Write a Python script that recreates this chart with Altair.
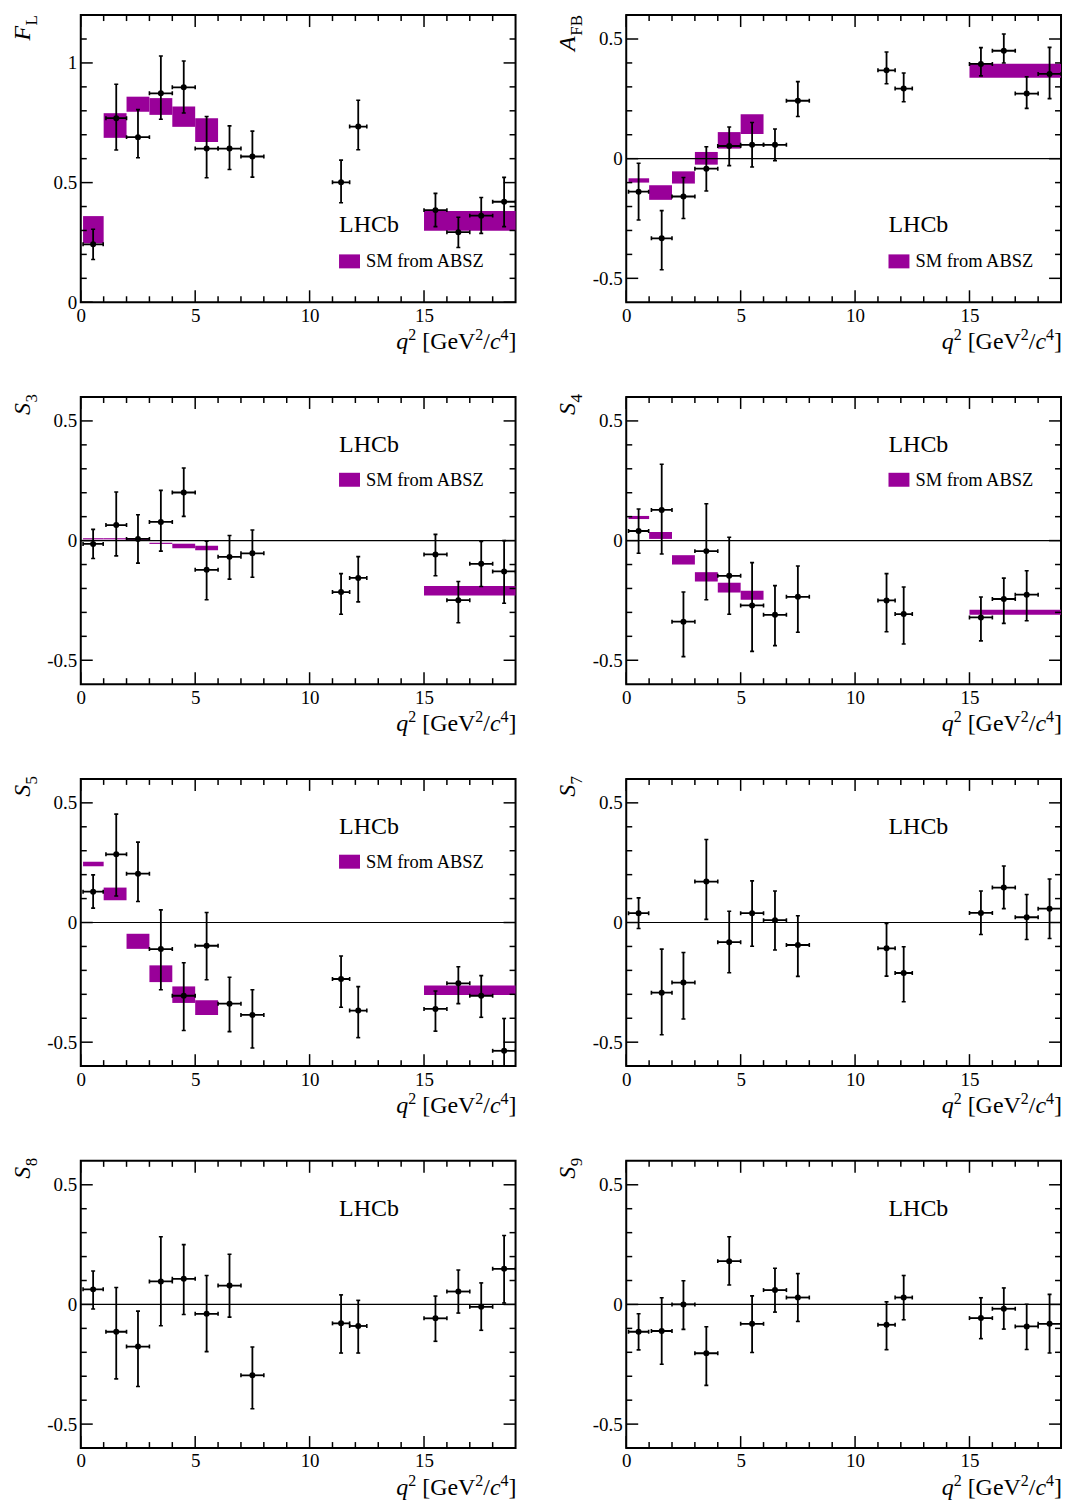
import altair as alt
import pandas as pd

# ---------------- data ----------------
bin_lo = [0.1, 1.1, 2.0, 3.0, 4.0, 5.0, 6.0, 7.0, 11.0, 11.75, 15.0, 16.0, 17.0, 18.0]
bin_hi = [0.98, 2.0, 3.0, 4.0, 5.0, 6.0, 7.0, 8.0, 11.75, 12.5, 16.0, 17.0, 18.0, 19.0]
th_bin_lo = [0.1, 1.0, 2.0, 3.0, 4.0, 5.0, 15.0]
th_bin_hi = [1.0, 2.0, 3.0, 4.0, 5.0, 6.0, 19.0]

FL_val = [0.242, 0.769, 0.690, 0.873, 0.898, 0.642, 0.642, 0.609, 0.501, 0.734, 0.385, 0.293, 0.362, 0.420]
FL_up = [0.305, 0.911, 0.805, 1.029, 1.008, 0.776, 0.737, 0.715, 0.594, 0.844, 0.455, 0.355, 0.438, 0.522]
FL_dn = [0.179, 0.636, 0.604, 0.765, 0.791, 0.520, 0.555, 0.523, 0.416, 0.637, 0.316, 0.229, 0.288, 0.316]
FL_th_lo = [0.246, 0.687, 0.796, 0.783, 0.733, 0.670, 0.299]
FL_th_hi = [0.360, 0.790, 0.859, 0.853, 0.818, 0.769, 0.381]

AFB_val = [-0.138, -0.333, -0.158, -0.042, 0.053, 0.058, 0.058, 0.242, 0.369, 0.293, 0.396, 0.451, 0.272, 0.354]
AFB_up = [-0.019, -0.217, -0.079, 0.050, 0.132, 0.151, 0.124, 0.322, 0.446, 0.358, 0.464, 0.521, 0.342, 0.465]
AFB_dn = [-0.256, -0.464, -0.250, -0.135, -0.029, -0.035, -0.008, 0.176, 0.313, 0.238, 0.346, 0.400, 0.210, 0.251]
AFB_th_lo = [-0.100, -0.172, -0.104, -0.025, 0.042, 0.103, 0.338]
AFB_th_hi = [-0.082, -0.111, -0.053, 0.028, 0.111, 0.186, 0.397]

S3_val = [-0.014, 0.065, 0.007, 0.078, 0.201, -0.122, -0.068, -0.053, -0.215, -0.156, -0.058, -0.249, -0.097, -0.129]
S3_up = [0.047, 0.203, 0.108, 0.210, 0.303, -0.003, 0.021, 0.044, -0.138, -0.067, 0.026, -0.171, -0.004, 0.000]
S3_dn = [-0.075, -0.064, -0.094, -0.044, 0.101, -0.247, -0.161, -0.153, -0.308, -0.256, -0.147, -0.343, -0.192, -0.262]
S3_th_lo = [0.005, 0.005, 0.000, -0.014, -0.032, -0.040, -0.229]
S3_th_hi = [0.010, 0.010, 0.006, -0.009, -0.013, -0.022, -0.190]

S4_val = [0.040, 0.128, -0.339, -0.044, -0.147, -0.271, -0.310, -0.235, -0.250, -0.307, -0.321, -0.244, -0.226, None]
S4_up = [0.132, 0.319, -0.215, 0.154, 0.014, -0.092, -0.188, -0.106, -0.138, -0.194, -0.236, -0.157, -0.126, None]
S4_dn = [-0.053, -0.056, -0.485, -0.247, -0.308, -0.463, -0.439, -0.383, -0.381, -0.432, -0.419, -0.346, -0.335, None]
S4_th_lo = [0.090, 0.007, -0.100, -0.171, -0.217, -0.247, -0.310]
S4_th_hi = [0.103, 0.036, -0.061, -0.132, -0.176, -0.210, -0.289]

S5_val = [0.129, 0.285, 0.204, -0.111, -0.306, -0.097, -0.339, -0.386, -0.236, -0.368, -0.361, -0.254, -0.306, -0.536]
S5_up = [0.199, 0.453, 0.336, 0.053, -0.168, 0.042, -0.229, -0.281, -0.140, -0.268, -0.286, -0.185, -0.222, -0.401]
S5_dn = [0.060, 0.111, 0.088, -0.281, -0.451, -0.239, -0.456, -0.524, -0.354, -0.481, -0.454, -0.339, -0.396, -0.640]
S5_th_lo = [0.235, 0.093, -0.110, -0.249, -0.336, -0.386, -0.303]
S5_th_hi = [0.254, 0.146, -0.047, -0.179, -0.267, -0.325, -0.263]

S7_val = [0.039, -0.293, -0.251, 0.171, -0.082, 0.039, 0.010, -0.094, -0.108, -0.211, 0.040, 0.146, 0.022, 0.058]
S7_up = [0.103, -0.111, -0.125, 0.347, 0.047, 0.174, 0.132, 0.028, -0.004, -0.101, 0.132, 0.236, 0.117, 0.182]
S7_dn = [-0.025, -0.469, -0.403, 0.013, -0.210, -0.099, -0.115, -0.225, -0.224, -0.331, -0.050, 0.058, -0.071, -0.067]

S8_val = [0.063, -0.114, -0.176, 0.096, 0.107, -0.039, 0.079, -0.296, -0.079, -0.090, -0.058, 0.054, -0.010, 0.149]
S8_up = [0.140, 0.071, -0.028, 0.283, 0.250, 0.121, 0.210, -0.178, 0.040, 0.017, 0.035, 0.144, 0.090, 0.288]
S8_dn = [-0.019, -0.311, -0.343, -0.089, -0.042, -0.197, -0.053, -0.436, -0.203, -0.203, -0.154, -0.036, -0.108, 0.006]

S9_val = [-0.114, -0.111, 0.000, -0.204, 0.181, -0.081, 0.060, 0.029, -0.085, 0.029, -0.057, -0.018, -0.092, -0.081]
S9_up = [-0.039, 0.028, 0.099, -0.093, 0.283, 0.036, 0.151, 0.129, 0.011, 0.121, 0.028, 0.069, 0.001, 0.042]
S9_dn = [-0.190, -0.250, -0.104, -0.338, 0.081, -0.201, -0.032, -0.071, -0.189, -0.064, -0.143, -0.103, -0.188, -0.203]

x_major = [0, 5, 10, 15]
x_minor = [1, 2, 3, 4, 6, 7, 8, 9, 11, 12, 13, 14, 16, 17, 18]
yFL_major = [0, 0.5, 1.0]
yFL_minor = [0.1, 0.2, 0.3, 0.4, 0.6, 0.7, 0.8, 0.9, 1.1]
yS_major = [-0.5, 0, 0.5]
yS_minor = [-0.4, -0.3, -0.2, -0.1, 0.1, 0.2, 0.3, 0.4]

legend_label = "SM from ABSZ"

# ---------------- style ----------------
W, H = 436, 288
FONT = "Liberation Serif"
PURPLE = "#990099"
MAJ, MIN = 12, 6
DUMMY = pd.DataFrame({"d": [0]})
# Times / Liberation Serif advance widths (per 1000 em)
ADV = {"q": 500, "2": 500, "4": 500, "3": 500, " ": 250, "[": 333, "G": 722, "e": 444,
       "V": 722, "/": 278, "c": 444, "]": 333, "L": 611, "F": 556, "B": 667,
       "5": 500, "7": 500, "8": 500, "9": 500}


def tw(s, size):
    return sum(ADV.get(ch, 500) for ch in s) * size / 1000.0


xscale = alt.Scale(domain=[0, 19], nice=False, zero=False)
xaxis = alt.Axis(values=x_major, title=None, ticks=False, tickSize=0, domain=False, grid=False,
                 labelFont=FONT, labelFontSize=19, labelColor="black", labelPadding=4,
                 labelFlush=False, labelOverlap=False)


def text_layer(txt, x, y, size, italic=False, angle=0, align="left"):
    kw = dict(text=txt, font=FONT, fontSize=size, align=align, baseline="alphabetic", color="black")
    if italic:
        kw["fontStyle"] = "italic"
    if angle:
        kw["angle"] = angle
    return alt.Chart(DUMMY).mark_text(**kw).encode(x=alt.value(x), y=alt.value(y))


def xtitle_layers():
    base_y = H + 47
    sup_y = base_y - 9
    pieces = [("q", 24, True, base_y), ("2", 16, False, sup_y), ("[GeV", 24, False, base_y),
              ("2", 16, False, sup_y), ("/", 24, False, base_y), ("c", 24, True, base_y),
              ("4", 16, False, sup_y), ("]", 24, False, base_y)]
    total = sum(tw(p[0], p[1]) for p in pieces) + tw(" ", 24)
    x = W - total + 1
    out = []
    for i, (t, s, it, yy) in enumerate(pieces):
        out.append(text_layer(t, x, yy, s, italic=it))
        x += tw(t, s)
        if i == 1:
            x += tw(" ", 24)
    return out


def ytitle_layers(main, sub, end):
    sw = tw(sub, 17)
    return [text_layer(sub, -44, end, 17, angle=270, align="right"),
            text_layer(main, -51, end + sw + 0.5, 24, italic=True, angle=270, align="right")]


def panel(main, sub, vals, ups, dns, ydom, ymaj, ymin, th_lo=None, th_hi=None,
          zero=True, lhcb_x=259, lhcb_y=55, leg_x=259, leg_y=72.5, title_end=-3):
    yscale = alt.Scale(domain=ydom, nice=False, zero=False)
    yaxis = alt.Axis(values=ymaj, title=None, ticks=False, tickSize=0, domain=False, grid=False,
                     labelFont=FONT, labelFontSize=19, labelColor="black", labelPadding=4,
                     labelFlush=False, labelOverlap=False, labelExpr="toString(datum.value)")

    def X(f):
        return alt.X(f, type="quantitative", scale=xscale, axis=xaxis)

    def Y(f):
        return alt.Y(f, type="quantitative", scale=yscale, axis=yaxis)

    df = pd.DataFrame({"lo": bin_lo, "hi": bin_hi, "val": vals, "up": ups, "dn": dns}).dropna()
    df["xc"] = (df["lo"] + df["hi"]) / 2.0
    base = alt.Chart(df)
    layers = []
    if th_lo is not None:
        bdf = pd.DataFrame({"a": th_bin_lo, "b": th_bin_hi, "ylo": th_lo, "yhi": th_hi,
                            "lab": [legend_label] * len(th_lo)})
        layers.append(
            alt.Chart(bdf).mark_rect(opacity=1).encode(
                x=X("a"), x2="b", y=Y("ylo"), y2="yhi",
                color=alt.Color("lab:N", scale=alt.Scale(domain=[legend_label], range=[PURPLE]),
                                legend=alt.Legend(title=None, orient="none", legendX=leg_x, legendY=leg_y,
                                                  symbolType="M-1,-0.667H1V0.667H-1Z", symbolSize=441,
                                                  symbolStrokeWidth=0, symbolOpacity=1, padding=0,
                                                  labelFont=FONT, labelFontSize=18.5, labelColor="black",
                                                  labelOffset=6, labelLimit=300))
            )
        )
    if zero:
        layers.append(alt.Chart(pd.DataFrame({"z": [0]})).mark_rule(color="black", strokeWidth=1.2).encode(y=Y("z")))
    # error bars
    layers.append(base.mark_rule(color="black", strokeWidth=1.8, clip=True).encode(x=X("xc"), y=Y("dn"), y2="up"))
    layers.append(base.mark_rule(color="black", strokeWidth=1.8, clip=True).encode(x=X("lo"), x2="hi", y=Y("val")))
    for f in ["up", "dn"]:
        layers.append(base.mark_tick(orient="horizontal", size=4, thickness=1.6, color="black", opacity=1,
                                     clip=True).encode(x=X("xc"), y=Y(f)))
    for f in ["lo", "hi"]:
        layers.append(base.mark_tick(orient="vertical", size=4, thickness=1.6, color="black", opacity=1,
                                     clip=True).encode(x=X(f), y=Y("val")))
    layers.append(base.mark_circle(size=36, color="black", opacity=1).encode(x=X("xc"), y=Y("val")))
    # inside ticks on all four sides
    for vals_t, ln in [(x_major, MAJ), (x_minor, MIN)]:
        tdf = alt.Chart(pd.DataFrame({"t": vals_t}))
        layers.append(tdf.mark_rule(color="black", strokeWidth=1.5).encode(x=X("t"), y=alt.value(H), y2=alt.value(H - ln)))
        layers.append(tdf.mark_rule(color="black", strokeWidth=1.5).encode(x=X("t"), y=alt.value(0), y2=alt.value(ln)))
    for vals_t, ln in [(ymaj, MAJ), (ymin, MIN)]:
        tdf = alt.Chart(pd.DataFrame({"t": vals_t}))
        layers.append(tdf.mark_rule(color="black", strokeWidth=1.5).encode(y=Y("t"), x=alt.value(0), x2=alt.value(ln)))
        layers.append(tdf.mark_rule(color="black", strokeWidth=1.5).encode(y=Y("t"), x=alt.value(W), x2=alt.value(W - ln)))
    # texts
    layers.append(text_layer("LHCb", lhcb_x, lhcb_y, 24))
    layers += ytitle_layers(main, sub, title_end)
    layers += xtitle_layers()
    return alt.layer(*layers).properties(width=W, height=H)


SD = [-0.6, 0.6]
p_FL = panel("F", "L", FL_val, FL_up, FL_dn, [0, 1.2], yFL_major, yFL_minor, FL_th_lo, FL_th_hi,
             zero=False, lhcb_x=259, lhcb_y=218, leg_x=259, leg_y=236.5, title_end=0)
p_AFB = panel("A", "FB", AFB_val, AFB_up, AFB_dn, SD, yS_major, yS_minor, AFB_th_lo, AFB_th_hi,
              lhcb_x=263, lhcb_y=218, leg_x=263, leg_y=236.5, title_end=0)
p_S3 = panel("S", "3", S3_val, S3_up, S3_dn, SD, yS_major, yS_minor, S3_th_lo, S3_th_hi,
             lhcb_x=259, leg_x=259)
p_S4 = panel("S", "4", S4_val, S4_up, S4_dn, SD, yS_major, yS_minor, S4_th_lo, S4_th_hi,
             lhcb_x=263, leg_x=263)
p_S5 = panel("S", "5", S5_val, S5_up, S5_dn, SD, yS_major, yS_minor, S5_th_lo, S5_th_hi,
             lhcb_x=259, leg_x=259)
p_S7 = panel("S", "7", S7_val, S7_up, S7_dn, SD, yS_major, yS_minor, lhcb_x=263)
p_S8 = panel("S", "8", S8_val, S8_up, S8_dn, SD, yS_major, yS_minor, lhcb_x=259)
p_S9 = panel("S", "9", S9_val, S9_up, S9_dn, SD, yS_major, yS_minor, lhcb_x=263)

chart = alt.concat(p_FL, p_AFB, p_S3, p_S4, p_S5, p_S7, p_S8, p_S9, columns=2,
                   spacing={"row": 95, "column": 111}, bounds="flush")
chart = chart.resolve_scale(color="independent").resolve_legend(color="independent")
chart = chart.properties(padding={"left": 10, "top": 11, "right": 3, "bottom": 0}, background="white")
chart = chart.configure_view(stroke="black", strokeWidth=2)

chart.save("out.html", embed_options={"renderer": "svg", "actions": False})
